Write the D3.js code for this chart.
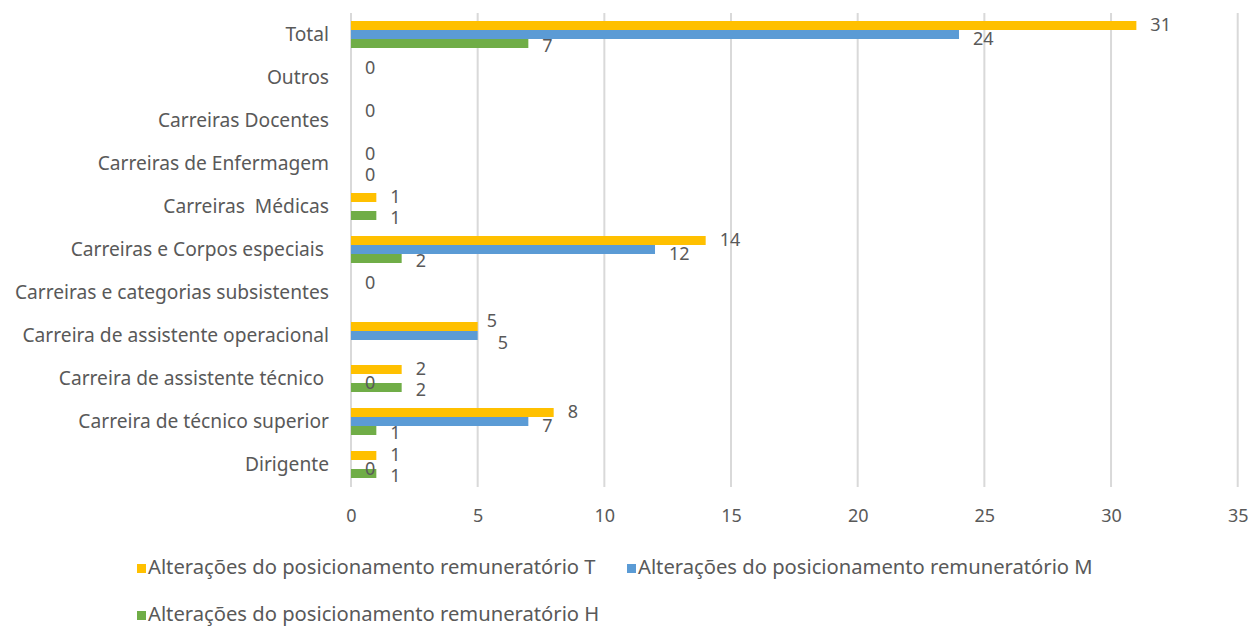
<!DOCTYPE html>
<html>
<head>
<meta charset="utf-8">
<script src="https://cdn.jsdelivr.net/npm/d3@7"></script>
<style>
  html, body { margin: 0; padding: 0; background: #fff; }
  svg text { font-family: "Noto Sans", "Open Sans", sans-serif; fill: #595959; white-space: pre; }
</style>
</head>
<body>
<svg id="chart" width="1254" height="628"></svg>
<script>
const categories = [
  "Total",
  "Outros",
  "Carreiras Docentes",
  "Carreiras de Enfermagem",
  "Carreiras  Médicas",
  "Carreiras e Corpos especiais ",
  "Carreiras e categorias subsistentes",
  "Carreira de assistente operacional",
  "Carreira de assistente técnico ",
  "Carreira de técnico superior",
  "Dirigente"
];
const seriesNames = [
  "Alterações do posicionamento remuneratório T",
  "Alterações do posicionamento remuneratório M",
  "Alterações do posicionamento remuneratório H"
];
const valuesT = [31, 0, 0, 0, 1, 14, 0, 5, 2, 8, 1];
const valuesM = [24, null, null, null, null, 12, null, 5, 0, 7, 0];
const valuesH = [7, null, null, 0, 1, 2, null, null, 2, 1, 1];
const xTicks = [0, 5, 10, 15, 20, 25, 30, 35];
const colors = ["#FFC000", "#5B9BD5", "#70AD47"];

const seriesValues = [valuesT, valuesM, valuesH];
const labelDy = [0.5, 6, 4];
const svg = d3.select("#chart");

const x = d3.scaleLinear().domain([0, 35]).range([351, 1237.7]);
const p = 16 / 43;
const y = d3.scaleBand().domain(categories).range([13, 486]).paddingInner(p).paddingOuter(p / 2);
const ySub = d3.scaleBand().domain(d3.range(3)).range([0, y.bandwidth()]);

// gridlines
svg.append("g").selectAll("line").data(xTicks).join("line")
  .attr("x1", d => x(d)).attr("x2", d => x(d))
  .attr("y1", 13).attr("y2", 487)
  .attr("stroke", "#d9d9d9").attr("stroke-width", 2);

// x tick labels
const xAxis = d3.axisBottom(x).tickValues(xTicks).tickSize(0).tickPadding(0);
const gx = svg.append("g").attr("transform", "translate(0,509)").call(xAxis);
gx.select(".domain").remove();
gx.selectAll("text").attr("font-size", 18).attr("fill", "#595959")
  .style("font-family", "'Noto Sans', sans-serif");

// y category labels
const yAxis = d3.axisLeft(y).tickSize(0).tickPadding(0);
const gy = svg.append("g").attr("transform", "translate(329,0)").call(yAxis);
gy.select(".domain").remove();
gy.selectAll("text").attr("font-size", 19.2).attr("fill", "#595959")
  .style("font-family", "'Noto Sans', sans-serif").style("white-space", "pre");

// bars
const data = [];
categories.forEach((c, i) => {
  seriesValues.forEach((vals, s) => {
    if (vals[i] !== null) {
      // nudge labels apart when adjacent T and M bars end at the same value
      let nx = 0, ny = 0;
      if (s === 0 && valuesM[i] !== null && valuesM[i] === vals[i] && vals[i] > 0) { nx = -5; ny = -5; }
      if (s === 1 && valuesT[i] !== null && valuesT[i] === vals[i] && vals[i] > 0) { nx = 6; ny = 3; }
      data.push({ c, s, v: vals[i], nx, ny });
    }
  });
});

svg.append("g").selectAll("rect").data(data.filter(d => d.v > 0)).join("rect")
  .attr("x", x(0))
  .attr("y", d => y(d.c) + ySub(d.s))
  .attr("width", d => x(d.v) - x(0))
  .attr("height", ySub.bandwidth())
  .attr("fill", d => colors[d.s]);

// data labels
svg.append("g").selectAll("text").data(data).join("text")
  .attr("x", d => x(d.v) + 14 + d.nx)
  .attr("y", d => y(d.c) + ySub(d.s) + ySub.bandwidth() / 2 + labelDy[d.s] + d.ny)
  .attr("dominant-baseline", "middle")
  .attr("font-size", 18)
  .attr("fill", "#404040")
  .text(d => d.v);

// legend
const legendPos = [[137, 569], [627, 569], [137, 616]];
const lg = svg.append("g").selectAll("g").data(seriesNames).join("g")
  .attr("transform", (d, i) => `translate(${legendPos[i][0]},${legendPos[i][1]})`);
lg.append("rect").attr("x", 0).attr("y", -5).attr("width", 9).attr("height", 9)
  .attr("fill", (d, i) => colors[i]);
lg.append("text").attr("x", 11).attr("y", 0).attr("dominant-baseline", "middle")
  .attr("font-size", 20.2).text(d => d);
</script>
</body>
</html>
